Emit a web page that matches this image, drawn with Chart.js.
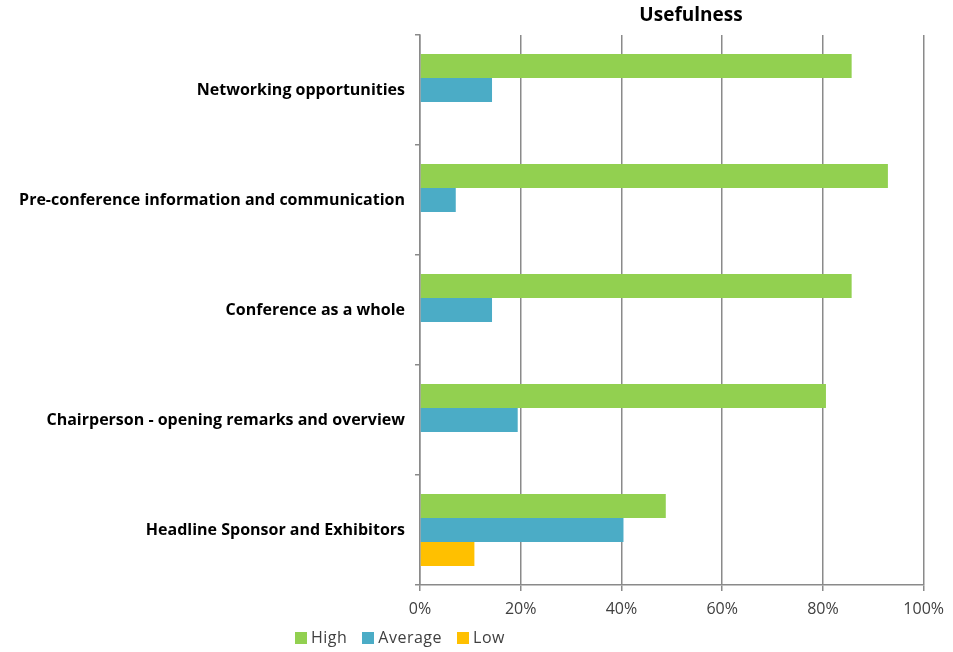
<!DOCTYPE html>
<html>
<head>
<meta charset="utf-8">
<script src="https://cdn.jsdelivr.net/npm/chart.js@4.4.0/dist/chart.umd.min.js"></script>
<style>
  body { margin: 0; background: #fff; }
  #wrap { position: relative; width: 953px; height: 652px; }
  #title { position: absolute; top: 1px; left: 591px; width: 200px; text-align: center;
           font: bold 19px "Open Sans", sans-serif; color: #000; }
  #legend { position: absolute; top: 626px; left: 295px; font: 16px "Open Sans", sans-serif;
            color: #404040; white-space: nowrap; letter-spacing: 0.5px; }
  #legend span.item { margin-right: 15px; }
  #legend span.box { display: inline-block; width: 12px; height: 12px; margin-right: 4px; vertical-align: -1px; }
</style>
</head>
<body>
<div id="wrap">
  <canvas id="myChart" width="953" height="652"></canvas>
  <div id="title"></div>
  <div id="legend"></div>
</div>
<script>
// Chart data
var chartTitle = "Usefulness";
var categories = [
    "Networking opportunities",
    "Pre-conference information and communication",
    "Conference as a whole",
    "Chairperson - opening remarks and overview",
    "Headline Sponsor and Exhibitors"
];
var seriesNames = ["High", "Average", "Low"];
var highValues = [85.7, 92.9, 85.7, 80.6, 48.8];
var averageValues = [14.3, 7.1, 14.3, 19.4, 40.4];
var lowValues = [0, 0, 0, 0, 10.8];
var xTicks = [0, 20, 40, 60, 80, 100];

var colors = ["#92D050", "#4BACC6", "#FFC000"];
var gridColor = "#8a8a8a";

document.getElementById("title").textContent = chartTitle;

var ctx = document.getElementById('myChart').getContext('2d');
var myChart = new Chart(ctx, {
    type: 'bar',
    data: {
        labels: categories,
        datasets: [
            { label: seriesNames[0], data: highValues, backgroundColor: colors[0] },
            { label: seriesNames[1], data: averageValues, backgroundColor: colors[1] },
            { label: seriesNames[2], data: lowValues, backgroundColor: colors[2] }
        ]
    },
    options: {
        indexAxis: 'y',
        responsive: false,
        animation: false,
        layout: { padding: { top: 35, right: 29, bottom: 0, left: 0 } },
        datasets: {
            bar: { categoryPercentage: 0.655, barPercentage: 1.0, borderWidth: 0 }
        },
        plugins: {
            legend: { display: false },
            title: { display: false },
            tooltip: { enabled: false }
        },
        scales: {
            x: {
                min: 0,
                max: 100,
                afterFit: function (scale) { scale.height = 67; },
                afterBuildTicks: function (scale) {
                    scale.ticks = xTicks.map(function (v) { return { value: v }; });
                },
                grid: { color: gridColor, lineWidth: 1.5, tickLength: 6, drawOnChartArea: true },
                border: { color: gridColor, width: 1.5 },
                ticks: {
                    padding: 9,
                    color: '#404040',
                    font: { family: 'Open Sans', size: 16 },
                    callback: function (v) { return v + '%'; }
                }
            },
            y: {
                afterFit: function (scale) { scale.width = 420; },
                grid: { offset: true, drawOnChartArea: false, color: gridColor, lineWidth: 1.5, tickLength: 5 },
                border: { color: gridColor, width: 1.5 },
                ticks: {
                    padding: 10,
                    color: '#000',
                    font: { family: 'Open Sans', size: 16, weight: 'bold' }
                }
            }
        }
    }
});

// Legend below the chart
var legendEl = document.getElementById("legend");
myChart.data.datasets.forEach(function (ds) {
    var item = document.createElement("span");
    item.className = "item";
    var box = document.createElement("span");
    box.className = "box";
    box.style.background = ds.backgroundColor;
    item.appendChild(box);
    item.appendChild(document.createTextNode(ds.label));
    legendEl.appendChild(item);
});
</script>
</body>
</html>
